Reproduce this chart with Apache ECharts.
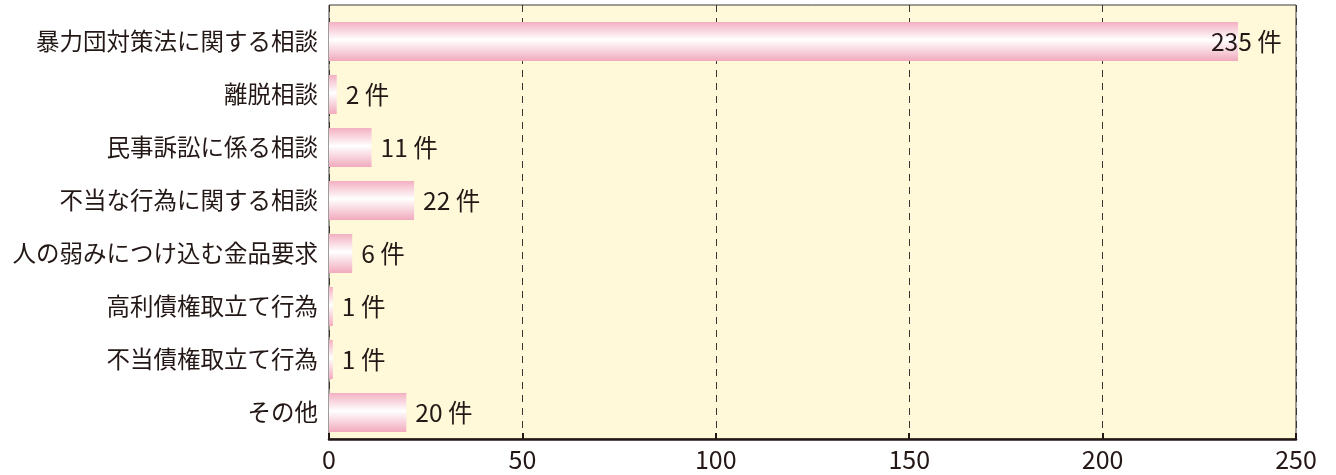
<!DOCTYPE html>
<html><head><meta charset="utf-8">
<script src="https://cdn.jsdelivr.net/npm/echarts@6/dist/echarts.min.js"></script>
<style>html,body{margin:0;padding:0;background:#fff}#c{width:1336px;height:475px}</style>
</head><body><div id="c"></div>
<script>
const categories = ['暴力団対策法に関する相談','離脱相談','民事訴訟に係る相談','不当な行為に関する相談','人の弱みにつけ込む金品要求','高利債権取立て行為','不当債権取立て行為','その他'];
const values = [235, 2, 11, 22, 6, 1, 1, 20];
const xTicks = [0, 50, 100, 150, 200, 250];

const chart = echarts.init(document.getElementById('c'));
const font = '"Noto Sans CJK JP","Noto Sans",sans-serif';
const data = values.map((v, i) => i === 0 ? {value: v, label: {offset: [-36, 0]}} : v);
const xMin = xTicks[0], xMax = xTicks[xTicks.length - 1];
chart.setOption({
  animation: false,
  grid: [
    {left: 329, right: 40, top: 15, bottom: 36},
    {left: 329, right: 40, top: 5, bottom: 36, show: true, backgroundColor: '#FFF9DA', borderColor: '#3a3a3a', borderWidth: 1, z: -1}
  ],
  xAxis: [{
    type: 'value', min: xMin, max: xMax, interval: 50, gridIndex: 0,
    axisLine: {show: true, lineStyle: {color: '#231815', width: 2.5}},
    axisTick: {show: true, inside: true, length: 6, lineStyle: {color: '#231815', width: 2}},
    splitLine: {show: false},
    axisLabel: {color: '#231815', fontSize: 25, fontFamily: font, margin: 8}
  }, {
    type: 'value', min: xMin, max: xMax, interval: 50, gridIndex: 1, z: -1,
    axisLine: {show: false}, axisTick: {show: false}, axisLabel: {show: false},
    splitLine: {show: true, lineStyle: {color: '#3a3530', type: [7, 6], width: 1}}
  }],
  yAxis: [{
    type: 'category', data: categories, inverse: true, gridIndex: 0,
    axisLine: {show: false},
    axisTick: {show: false},
    axisLabel: {color: '#231815', fontSize: 23.5, fontFamily: font, margin: 11}
  }, {
    type: 'value', gridIndex: 1, min: 0, max: 1, show: false
  }],
  series: [{
    type: 'bar', data: data, barWidth: 39, xAxisIndex: 0, yAxisIndex: 0,
    itemStyle: {color: new echarts.graphic.LinearGradient(0, 0, 0, 1, [
      {offset: 0, color: '#F3B0C2'}, {offset: 0.46, color: '#FFFFFF'}, {offset: 1, color: '#F1AABD'}])},
    label: {show: true, position: 'right', distance: 9, formatter: '{c} 件', color: '#231815', fontSize: 24.5, fontFamily: font}
  }]
});
</script></body></html>
